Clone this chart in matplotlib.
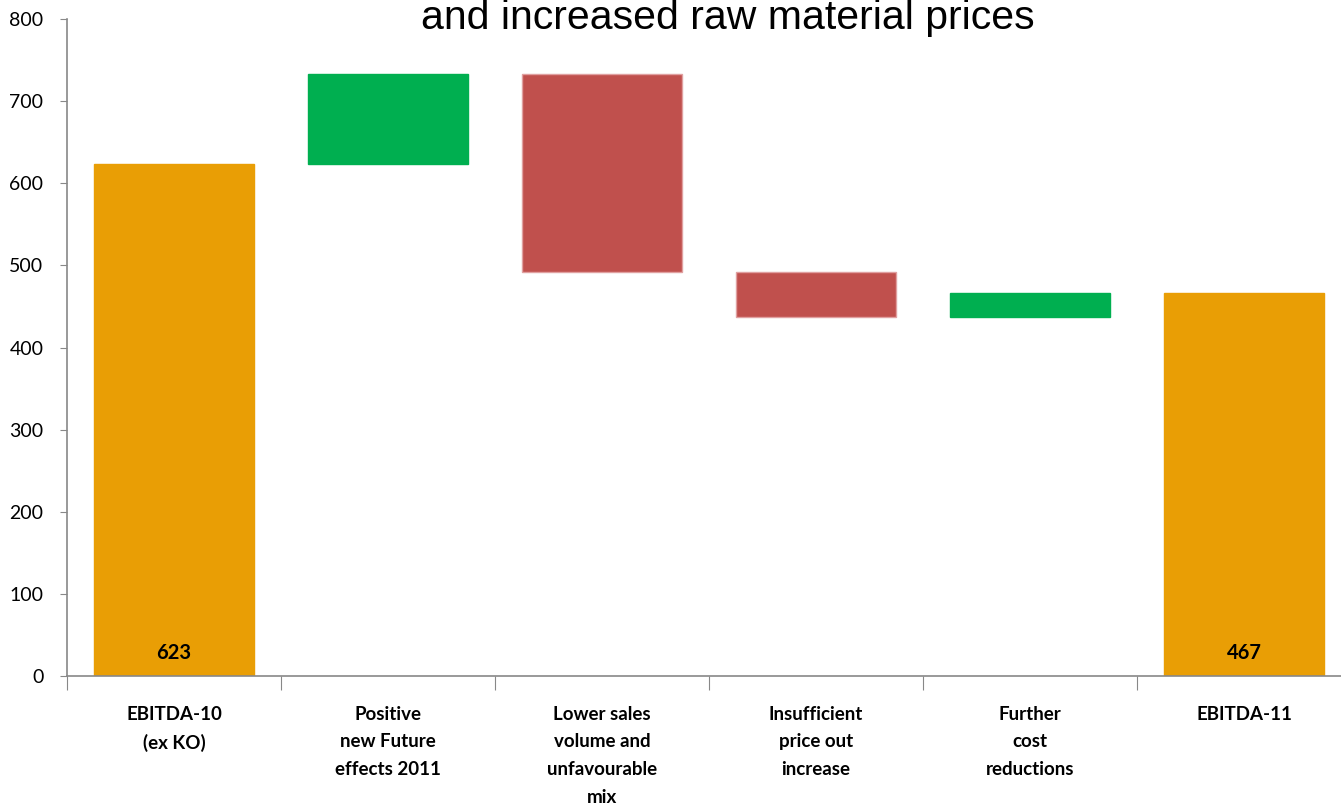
import numpy as np
import matplotlib.pyplot as plt

categories = ['EBITDA-10\n(ex KO)', 'Positive\nnew Future\neffects 2011', 'Lower sales\nvolume and\nunfavourable\nmix',
              'Insufficient\nprice out\nincrease', 'Further\ncost\nreductions', 'EBITDA-11']
changes = [623, 110, -241, -55, 30, 467]
kinds = ['total', 'delta', 'delta', 'delta', 'delta', 'total']
total_labels = {0: '623', 5: '467'}

orange = '#E99E05'
green = '#00AF50'
red = '#C0504D'

# waterfall bottoms/heights
bottoms = []
heights = []
colors = []
level = 0
for c, k in zip(changes, kinds):
    if k == 'total':
        bottoms.append(0)
        heights.append(c)
        colors.append(orange)
        level = c
    else:
        if c >= 0:
            bottoms.append(level)
            colors.append(green)
        else:
            bottoms.append(level + c)
            colors.append(red)
        heights.append(abs(c))
        level += c

fig = plt.figure(figsize=(13.41, 8.07), dpi=100)
ax = fig.add_axes([0.05, 0.1623, 0.9575, 0.814])

x = np.arange(len(categories))
for i in range(len(x)):
    ec = '#E0A0A0' if colors[i] == red else colors[i]
    ax.bar(x[i], heights[i], bottom=bottoms[i], width=0.745, color=colors[i],
           edgecolor=ec, linewidth=1.0)

for i, t in total_labels.items():
    ax.text(x[i], 28, t, ha='center', va='center', fontsize=14.5,
            fontweight='bold', family='Lato', color='black')

ax.set_xlim(-0.5, len(categories) - 0.5)
ax.set_ylim(0, 800)
ax.set_yticks(range(0, 801, 100))
ax.tick_params(axis='y', labelsize=14, length=5, color='#888888', pad=12)
for lab in ax.get_yticklabels():
    lab.set_family('Lato')

# category ticks at boundaries, labels at centers
ax.set_xticks(np.arange(-0.5, len(categories) - 0.4, 1.0))
ax.set_xticklabels([])
ax.tick_params(axis='x', length=10, color='#888888')
for i, c in enumerate(categories):
    ax.text(x[i], -36, c, ha='center', va='top', fontsize=13.5, fontweight='bold',
            family='Lato', linespacing=1.76, transform=ax.transData)

for s in ['top', 'right']:
    ax.spines[s].set_visible(False)
ax.spines['left'].set_color('#888888')
ax.spines['bottom'].set_color('#888888')
ax.spines['left'].set_linewidth(1.2)
ax.spines['bottom'].set_linewidth(1.2)

fig.text(0.543, (807 - 29) / 807, 'and increased raw material prices', ha='center', va='baseline',
         fontsize=29.5, family='Liberation Sans')

fig.savefig('out.png', dpi=100)
